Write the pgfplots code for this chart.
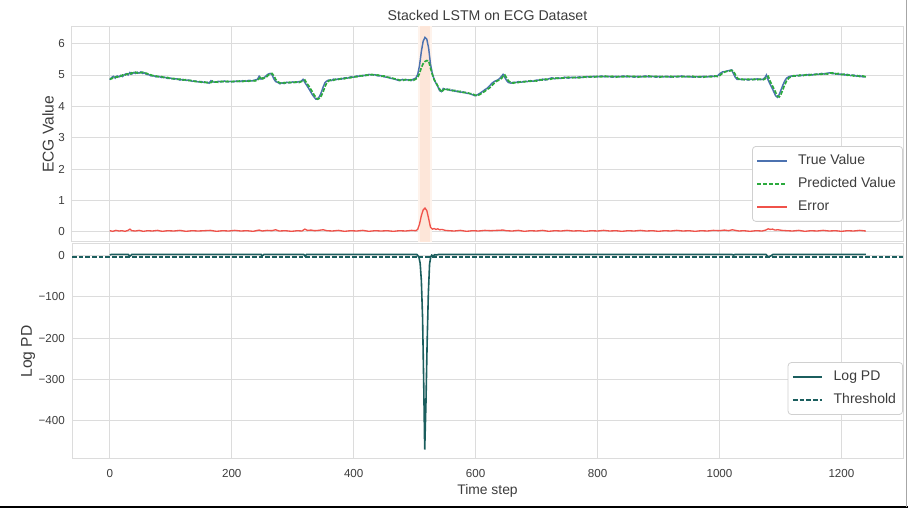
\documentclass[border=0pt]{standalone}
\usepackage{fontspec}
\setmainfont{Liberation Sans}
\usepackage{pgfplots}
\pgfplotsset{compat=1.18}
\usepackage{pgfplotstable}

\definecolor{trueC}{HTML}{4C72B0}
\definecolor{predC}{HTML}{2BAA3D}
\definecolor{errC}{HTML}{F0524A}
\definecolor{logC}{HTML}{1B5E5E}
\definecolor{bandOut}{HTML}{FEF3EC}
\definecolor{bandIn}{HTML}{FDE6D9}
\definecolor{gridC}{HTML}{DCDCDC}
\definecolor{legC}{HTML}{D0D0D0}
\definecolor{labC}{HTML}{3C3C3C}

% ECG value: time step, true value, predicted value
\pgfplotstableread{
t true pred
0 4.85 4.87
3 4.92 4.88
6 4.96 4.93
9 4.90 4.94
12 4.97 4.93
15 4.94 4.97
18 4.99 4.96
21 4.95 5.00
24 5.01 4.98
27 5.04 5.02
30 5.00 5.04
33 5.08 5.02
36 5.03 5.07
39 5.08 5.05
42 5.05 5.09
45 5.09 5.06
48 5.06 5.09
51 5.10 5.07
54 5.05 5.09
57 5.07 5.05
60 5.02 5.06
64 5.01 5.02
68 4.97 5.00
72 4.98 4.97
76 4.94 4.97
80 4.96 4.94
85 4.92 4.95
90 4.93 4.91
95 4.89 4.92
100 4.90 4.88
105 4.87 4.89
110 4.88 4.86
115 4.84 4.87
120 4.86 4.84
125 4.83 4.85
130 4.84 4.82
135 4.80 4.83
140 4.81 4.79
145 4.78 4.80
150 4.79 4.77
155 4.76 4.78
160 4.77 4.75
163 4.74 4.76
166 4.82 4.76
169 4.78 4.81
173 4.77 4.78
178 4.80 4.77
183 4.78 4.80
188 4.81 4.78
193 4.78 4.80
198 4.80 4.78
203 4.78 4.80
208 4.81 4.79
213 4.79 4.81
218 4.82 4.79
223 4.80 4.82
228 4.83 4.80
233 4.81 4.83
238 4.84 4.81
242 4.86 4.84
245 4.96 4.88
248 4.87 4.95
251 4.90 4.88
254 4.93 4.91
257 4.99 4.94
260 5.03 5.00
263 5.05 5.03
266 5.01 5.05
269 4.88 4.98
272 4.79 4.86
276 4.76 4.78
279 4.72 4.75
282 4.75 4.72
286 4.73 4.76
290 4.77 4.74
295 4.75 4.77
300 4.78 4.75
305 4.76 4.78
310 4.79 4.76
314 4.80 4.79
317 4.86 4.81
320 4.76 4.84
323 4.67 4.74
326 4.58 4.66
329 4.48 4.57
332 4.38 4.47
335 4.30 4.37
338 4.23 4.29
341 4.24 4.23
344 4.32 4.26
347 4.45 4.34
350 4.62 4.47
353 4.76 4.63
356 4.81 4.76
359 4.84 4.81
363 4.82 4.85
367 4.87 4.83
371 4.85 4.87
375 4.88 4.86
380 4.87 4.89
385 4.91 4.88
390 4.90 4.92
395 4.94 4.91
400 4.93 4.95
405 4.97 4.94
410 4.96 4.98
415 4.99 4.97
420 4.98 5.00
425 5.02 4.99
430 5.00 5.02
435 5.01 4.99
440 4.97 5.00
445 4.98 4.96
450 4.94 4.97
455 4.93 4.93
460 4.90 4.92
465 4.88 4.89
470 4.85 4.87
475 4.82 4.84
480 4.86 4.82
485 4.84 4.86
490 4.85 4.83
494 4.82 4.85
498 4.87 4.83
502 4.90 4.87
505 5.02 4.92
508 5.30 5.05
511 5.75 5.24
514 6.08 5.36
517 6.20 5.43
520 6.14 5.46
523 5.85 5.45
526 5.35 5.22
529 5.05 5.02
532 4.86 4.85
535 4.74 4.76
538 4.63 4.65
541 4.50 4.55
544 4.47 4.46
547 4.57 4.52
550 4.54 4.57
554 4.55 4.53
558 4.51 4.54
562 4.52 4.50
566 4.48 4.51
570 4.49 4.47
575 4.45 4.48
580 4.46 4.44
585 4.42 4.45
590 4.41 4.41
595 4.37 4.40
599 4.34 4.36
603 4.37 4.34
607 4.42 4.38
611 4.47 4.43
615 4.53 4.48
619 4.58 4.54
623 4.66 4.59
627 4.74 4.67
631 4.80 4.75
635 4.83 4.81
639 4.88 4.84
643 4.97 4.90
645 5.02 4.97
648 4.92 5.00
651 4.82 4.90
654 4.76 4.81
658 4.74 4.76
662 4.77 4.74
666 4.76 4.77
670 4.79 4.76
675 4.77 4.79
680 4.80 4.78
685 4.79 4.81
690 4.82 4.80
695 4.80 4.82
700 4.84 4.81
705 4.83 4.85
710 4.87 4.84
715 4.84 4.87
720 4.88 4.85
725 4.91 4.88
730 4.88 4.91
735 4.91 4.89
740 4.89 4.91
746 4.93 4.90
752 4.90 4.93
758 4.93 4.91
764 4.91 4.93
770 4.94 4.91
776 4.92 4.94
782 4.95 4.93
788 4.93 4.95
794 4.96 4.93
800 4.94 4.96
806 4.97 4.94
812 4.94 4.97
818 4.96 4.94
824 4.93 4.96
830 4.96 4.93
836 4.94 4.96
842 4.97 4.94
848 4.94 4.97
854 4.96 4.94
860 4.93 4.96
866 4.96 4.93
872 4.94 4.96
878 4.97 4.94
884 4.94 4.97
890 4.96 4.94
896 4.93 4.96
902 4.96 4.93
908 4.94 4.96
914 4.96 4.94
920 4.93 4.96
926 4.96 4.93
932 4.94 4.96
938 4.97 4.94
944 4.94 4.96
950 4.96 4.94
956 4.93 4.96
962 4.95 4.93
968 4.93 4.95
974 4.96 4.93
980 4.94 4.96
986 4.97 4.94
992 4.95 4.97
997 4.98 4.95
1001 5.05 4.99
1005 5.10 5.06
1009 5.11 5.10
1013 5.13 5.12
1017 5.15 5.13
1020 5.16 5.15
1023 5.04 5.12
1026 4.92 5.01
1029 4.86 4.91
1033 4.87 4.85
1037 4.85 4.87
1042 4.87 4.84
1047 4.84 4.87
1052 4.87 4.84
1057 4.85 4.87
1062 4.88 4.85
1067 4.85 4.87
1072 4.87 4.85
1075 4.93 4.88
1077 5.00 4.94
1080 4.83 4.96
1083 4.71 4.80
1086 4.59 4.69
1089 4.47 4.57
1092 4.34 4.45
1095 4.29 4.33
1098 4.38 4.30
1101 4.53 4.39
1104 4.68 4.54
1107 4.81 4.69
1110 4.90 4.81
1114 4.95 4.91
1118 4.97 4.95
1122 4.96 4.98
1127 4.99 4.96
1132 4.97 5.00
1137 5.00 4.98
1142 4.99 5.01
1147 5.02 4.99
1152 5.00 5.02
1157 5.03 5.01
1162 5.02 5.04
1167 5.05 5.02
1172 5.03 5.05
1177 5.06 5.03
1181 5.07 5.06
1185 5.04 5.07
1190 5.05 5.03
1195 5.02 5.05
1200 5.03 5.01
1205 5.00 5.03
1210 5.02 4.99
1215 4.98 5.01
1220 5.00 4.97
1225 4.96 4.99
1230 4.98 4.95
1235 4.94 4.97
1240 4.95 4.94
}\ecgtable

% absolute error
\pgfplotstableread{
t err
0 0.04
5 0.02
10 0.05
15 0.03
20 0.04
25 0.02
30 0.05
33 0.09
36 0.04
42 0.03
48 0.05
55 0.02
62 0.04
70 0.03
78 0.05
86 0.02
95 0.04
105 0.03
115 0.05
125 0.02
135 0.04
145 0.03
155 0.04
165 0.05
175 0.02
185 0.04
195 0.03
205 0.05
215 0.03
225 0.04
235 0.02
245 0.06
250 0.03
258 0.05
266 0.04
272 0.07
278 0.03
288 0.04
298 0.02
308 0.04
315 0.03
320 0.09
324 0.05
330 0.06
336 0.04
342 0.05
350 0.07
356 0.04
365 0.03
375 0.05
385 0.02
395 0.04
405 0.03
415 0.05
425 0.02
435 0.04
445 0.03
455 0.04
465 0.02
475 0.04
485 0.03
495 0.05
502 0.04
505 0.08
508 0.25
511 0.52
514 0.70
517 0.76
520 0.68
523 0.42
526 0.15
529 0.09
532 0.11
535 0.08
538 0.10
541 0.07
545 0.08
550 0.05
556 0.04
565 0.03
575 0.05
585 0.02
595 0.04
605 0.03
615 0.05
625 0.04
635 0.05
645 0.06
650 0.04
660 0.03
670 0.05
680 0.02
690 0.04
700 0.03
710 0.05
720 0.02
730 0.04
740 0.03
750 0.05
760 0.03
770 0.04
780 0.02
790 0.04
800 0.03
810 0.05
820 0.03
830 0.04
840 0.02
850 0.04
860 0.03
870 0.05
880 0.03
890 0.04
900 0.02
910 0.04
920 0.03
930 0.05
940 0.03
950 0.04
960 0.02
970 0.04
980 0.03
990 0.05
1000 0.04
1008 0.06
1015 0.04
1021 0.07
1026 0.05
1032 0.03
1040 0.04
1050 0.02
1060 0.04
1070 0.03
1076 0.06
1080 0.10
1083 0.08
1087 0.09
1091 0.06
1096 0.07
1102 0.05
1110 0.04
1120 0.03
1130 0.05
1140 0.02
1150 0.04
1160 0.03
1170 0.05
1180 0.03
1190 0.04
1200 0.02
1210 0.04
1220 0.03
1230 0.05
1240 0.03
}\errtable

% log probability density
\pgfplotstableread{
t logpd
0 1.5
3 3.0
30 3.0
33 -1.5
36 2.8
80 3.0
248 3.0
250 -0.5
253 3.0
318 3.0
320 -1.0
323 3.0
500 3.0
504 2.5
507 -4
509 -18
511 -60
513 -150
515 -320
516.5 -469
518.5 -360
520.5 -210
522.5 -90
524.5 -20
526.5 -3
528 1.0
530 -1
533 2.0
536 1.5
540 3.0
1020 3.0
1023 1.5
1026 3.0
1076 3.0
1080 -3.5
1084 -1
1088 3.0
1240 3.0
}\logtable

\pgfplotsset{
  snsbase/.style={
    scale only axis, width=623.25pt, height=161.25pt,
    anchor=south west,
    xmin=-62, xmax=1301,
    xtick={0,200,400,600,800,1000,1200},
    grid=major,
    major grid style={draw=gridC, line width=0.75pt},
    axis line style={draw=gridC, line width=0.75pt},
    major tick length=0pt, tick style={draw=none},
    /pgf/number format/assume math mode=true,
    /pgf/number format/1000 sep={},
    tick label style={font=\fontsize{8.7}{10}\selectfont, text=labC},
    xticklabel style={anchor=base, yshift=-13.7pt},
    yticklabel style={anchor=east, inner sep=0pt, xshift=-5.25pt},
    legend style={font=\fontsize{10.5}{12.6}\selectfont, text=labC,
      draw=legC, fill=white, rounded corners=2.5pt, line width=0.6pt,
      inner xsep=3pt, inner ysep=4pt, row sep=3.4pt, cells={anchor=west},
      nodes={text height=7.6pt, text depth=2.2pt}},
    legend image code/.code={\draw[##1] (0pt,0pt) -- (22pt,0pt); \path (28pt,0pt);},
  },
}

\begin{document}
\begin{tikzpicture}
\path[use as bounding box] (0,0) rectangle (682.5pt,381.75pt);

\begin{axis}[snsbase, at={(54pt,200.25pt)},
  ymin=-0.32, ymax=6.53,
  ytick={0,1,2,3,4,5,6}, yticklabels={0,1,2,3,4,5,6},
  xticklabels={},
  title={Stacked LSTM on ECG Dataset},
  every axis title/.style={at={(axis description cs:0.5,1)}, anchor=base,
    yshift=4.7pt, font=\fontsize{10.6}{12}\selectfont, text=labC},
  ylabel={ECG Value},
  every axis y label/.style={at={(axis description cs:-0.0289,0.5)},
    rotate=90, anchor=center, font=\fontsize{11.7}{13}\selectfont, text=labC},
  legend style={at={(1,0.094)}, anchor=south east},
]
\fill[bandOut] (axis cs:505,-1) rectangle (axis cs:529,7);
\fill[bandIn] (axis cs:509,-1) rectangle (axis cs:525,7);
\addplot[draw=trueC, line width=1.1pt, forget plot] table[x=t, y=true] {\ecgtable};
\addplot[draw=predC, line width=1.25pt, dash pattern=on 3pt off 1.2pt, forget plot] table[x=t, y=pred] {\ecgtable};
\addplot[draw=errC, line width=1pt, forget plot] table[x=t, y=err] {\errtable};
\addlegendimage{draw=trueC, line width=1.1pt}
\addlegendentry{True Value}
\addlegendimage{draw=predC, line width=1.25pt, dash pattern=on 3pt off 1.5pt}
\addlegendentry{Predicted Value}
\addlegendimage{draw=errC, line width=1.1pt}
\addlegendentry{Error}
\end{axis}

\begin{axis}[snsbase, at={(54pt,37.5pt)},
  ymin=-492, ymax=28,
  ytick={-400,-300,-200,-100,0},
  yticklabels={−400,−300,−200,−100,0},
  xticklabels={0,200,400,600,800,1000,1200},
  xlabel={Time step},
  every axis x label/.style={at={(axis description cs:0.5,0)}, anchor=base,
    yshift=-27pt, font=\fontsize{10.4}{12}\selectfont, text=labC},
  ylabel={Log PD},
  every axis y label/.style={at={(axis description cs:-0.0529,0.5)},
    rotate=90, anchor=center, font=\fontsize{11.7}{13}\selectfont, text=labC},
  legend style={at={(1,0.205)}, anchor=south east},
]
\addplot[draw=logC, line width=1.2pt, forget plot] table[x=t, y=logpd] {\logtable};
\addplot[draw=logC, line width=1.1pt, dash pattern=on 3.5pt off 1.5pt, forget plot] coordinates {(-62,-3) (1301,-3)};
\addlegendimage{draw=logC, line width=1.2pt}
\addlegendentry{Log PD}
\addlegendimage{draw=logC, line width=1.1pt, dash pattern=on 3.5pt off 1.5pt}
\addlegendentry{Threshold}
\end{axis}

\draw[black, line width=1.8pt] (0,1.6pt) -- (681pt,1.6pt);
\draw[black!35, line width=0.8pt] (680pt,1.6pt) -- (680pt,381.75pt);
\end{tikzpicture}
\end{document}
